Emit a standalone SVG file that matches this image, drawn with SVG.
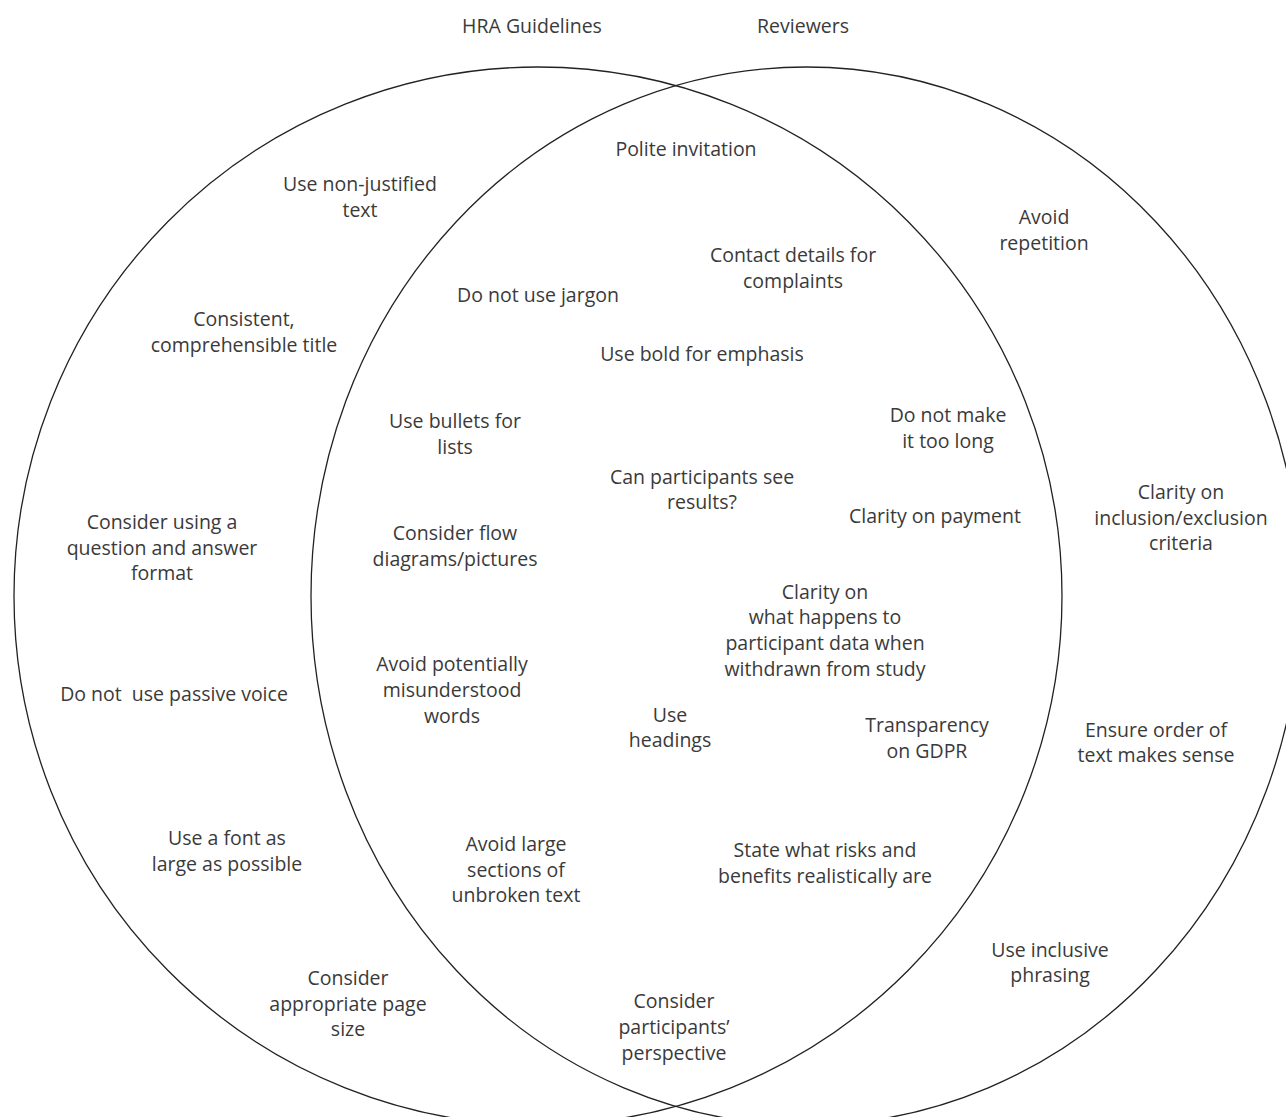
<svg xmlns="http://www.w3.org/2000/svg" width="1286" height="1117" viewBox="0 0 1286 1117">
<style>
text{font-family:"Open Sans","Noto Sans","Liberation Sans",sans-serif;font-size:19.5px;fill:#3a3a3a;text-anchor:middle;white-space:pre}
.c{fill:none;stroke:#222;stroke-width:1.3}
</style>
<rect width="1286" height="1117" fill="#fff"/>
<g id="sets">
<ellipse id="hra" class="c" cx="538" cy="596" rx="524" ry="529"/>
<ellipse id="reviewers" class="c" cx="806" cy="596" rx="495" ry="529"/>
</g>
<g id="titles">
<text x="532" y="33">HRA Guidelines</text>
<text x="803" y="33">Reviewers</text>
</g>
<g id="hra-only">
<g id="n1"><text x="360" y="191">Use non-justified</text><text x="360" y="217">text</text></g>
<g id="n2"><text x="244" y="326">Consistent,</text><text x="244" y="352">comprehensible title</text></g>
<g id="n3"><text x="162" y="529">Consider using a</text><text x="162" y="555">question and answer</text><text x="162" y="580">format</text></g>
<g id="n4"><text x="174" y="701">Do not  use passive voice</text></g>
<g id="n5"><text x="227" y="845">Use a font as</text><text x="227" y="871">large as possible</text></g>
<g id="n6"><text x="348" y="985">Consider</text><text x="348" y="1011">appropriate page</text><text x="348" y="1036">size</text></g>
</g>
<g id="both">
<g id="n7"><text x="686" y="156">Polite invitation</text></g>
<g id="n8"><text x="793" y="262">Contact details for</text><text x="793" y="288">complaints</text></g>
<g id="n9"><text x="538" y="302">Do not use jargon</text></g>
<g id="n10"><text x="702" y="361">Use bold for emphasis</text></g>
<g id="n11"><text x="948" y="422">Do not make</text><text x="948" y="448">it too long</text></g>
<g id="n12"><text x="455" y="428">Use bullets for</text><text x="455" y="454">lists</text></g>
<g id="n13"><text x="702" y="484">Can participants see</text><text x="702" y="509">results?</text></g>
<g id="n14"><text x="935" y="523">Clarity on payment</text></g>
<g id="n15"><text x="455" y="540">Consider flow</text><text x="455" y="566">diagrams/pictures</text></g>
<g id="n16"><text x="825" y="599">Clarity on</text><text x="825" y="624">what happens to</text><text x="825" y="650">participant data when</text><text x="825" y="676">withdrawn from study</text></g>
<g id="n17"><text x="452" y="671">Avoid potentially</text><text x="452" y="697">misunderstood</text><text x="452" y="723">words</text></g>
<g id="n18"><text x="670" y="722">Use</text><text x="670" y="747">headings</text></g>
<g id="n19"><text x="927" y="732">Transparency</text><text x="927" y="758">on GDPR</text></g>
<g id="n20"><text x="516" y="851">Avoid large</text><text x="516" y="877">sections of</text><text x="516" y="902">unbroken text</text></g>
<g id="n21"><text x="825" y="857">State what risks and</text><text x="825" y="883">benefits realistically are</text></g>
<g id="n22"><text x="674" y="1008">Consider</text><text x="674" y="1034">participants’</text><text x="674" y="1060">perspective</text></g>
</g>
<g id="reviewers-only">
<g id="n23"><text x="1044" y="224">Avoid</text><text x="1044" y="250">repetition</text></g>
<g id="n24"><text x="1181" y="499">Clarity on</text><text x="1181" y="525">inclusion/exclusion</text><text x="1181" y="550">criteria</text></g>
<g id="n25"><text x="1156" y="737">Ensure order of</text><text x="1156" y="762">text makes sense</text></g>
<g id="n26"><text x="1050" y="957">Use inclusive</text><text x="1050" y="982">phrasing</text></g>
</g>
<g id="connectors"/>
</svg>
